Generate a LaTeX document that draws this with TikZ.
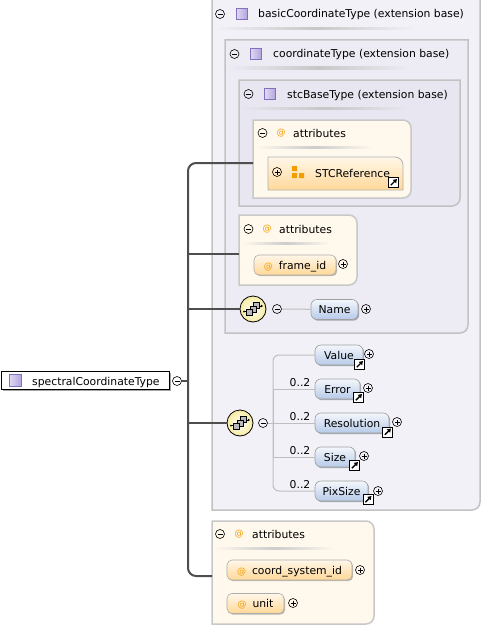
\documentclass[tikz,border=0pt]{standalone}
\usepackage{fontspec}
\setmainfont{DejaVu Sans}
\usetikzlibrary{shadows,arrows.meta}
\definecolor{bgA}{HTML}{F3F1F8}
\definecolor{bgB}{HTML}{EDEBF4}
\definecolor{bgC}{HTML}{E8E6F0}
\definecolor{boxln}{HTML}{C2C2C2}
\definecolor{attrbg}{HTML}{FFF8EC}
\definecolor{attrln}{HTML}{C8C8C8}
\definecolor{treeln}{HTML}{4E4E4E}
\definecolor{thinln}{HTML}{BEBEBE}
\definecolor{eltop}{HTML}{F4F7FC}
\definecolor{elbot}{HTML}{B6CAE8}
\definecolor{attop}{HTML}{FFF7E9}
\definecolor{atbot}{HTML}{FFD898}
\definecolor{orng}{HTML}{F39C00}
\definecolor{lavln}{HTML}{8371C0}
\definecolor{lavfill}{HTML}{B3A5DF}
\definecolor{seqfill}{HTML}{F6EBA0}
\newcommand{\myat}{{\color{orng}\fontsize{9}{10}\selectfont @}}
\tikzset{
 every node/.style={font=\fontsize{10.8}{12}\selectfont},
 pmbase/.style={circle, draw=black, line width=0.6pt, inner sep=0pt, minimum size=9pt},
 minusc/.style={pmbase, path picture={\draw[line width=0.8pt] ([xshift=2pt]path picture bounding box.west) -- ([xshift=-2pt]path picture bounding box.east);}},
 plusc/.style={pmbase, path picture={\draw[line width=0.8pt] ([xshift=2pt]path picture bounding box.west) -- ([xshift=-2pt]path picture bounding box.east) ([yshift=-2pt]path picture bounding box.north) -- ([yshift=2pt]path picture bounding box.south);}},
 ticon/.style={rectangle, draw=lavln, line width=0.8pt, inner sep=0pt, minimum size=11pt, left color=white!60!lavfill, right color=lavfill},
 htext/.style={anchor=base west, inner sep=0pt},
 attext/.style={inner sep=0pt, text=orng, font=\fontsize{9}{10}\selectfont},
 elnode/.style={draw=gray!75, line width=0.6pt, rounded corners=6pt, top color=eltop, bottom color=elbot, minimum height=20pt, inner sep=0pt, text height=8pt, text depth=0pt, drop shadow={shadow xshift=1.2pt, shadow yshift=-1.2pt, fill=black, opacity=0.3}},
 atnode/.style={draw=gray!65, line width=0.6pt, rounded corners=5pt, top color=attop, bottom color=atbot, minimum height=20pt, inner sep=0pt, text height=8pt, text depth=0pt, drop shadow={shadow xshift=1.2pt, shadow yshift=-1.2pt, fill=black, opacity=0.25}},
 linkic/.style={rectangle, draw=black, fill=white, line width=0.8pt, minimum size=10pt, inner sep=0pt, path picture={\draw[line width=1.4pt, -{Triangle[length=3.5pt,width=4.5pt]}] ([shift={(2.3pt,2.3pt)}]path picture bounding box.south west) -- ([shift={(-1.6pt,-1.6pt)}]path picture bounding box.north east);}},
 seqnode/.style={circle, draw=black, line width=0.8pt, minimum size=26pt, inner sep=0pt, inner color=white, outer color=seqfill},
 cardlab/.style={anchor=base, inner sep=0pt},
 treeconn/.style={draw=treeln, line width=2pt},
 thinconn/.style={draw=thinln, line width=1pt},
 seqglyph/.pic={
  \draw[line width=0.6pt] (-9,-2.5) -- (-5,-2.5);
  \fill (-9,-2.5) circle (1);
  \draw[line width=0.6pt, -{Triangle[length=2.2pt,width=2.6pt]}] (5,3) -- (10,3);
  \filldraw[fill=gray!55, draw=black, line width=0.5pt] (0.5,0.5) rectangle (6.5,6.5);
  \filldraw[fill=gray!55, draw=black, line width=0.5pt] (-3,-3) rectangle (3,3);
  \filldraw[fill=gray!55, draw=black, line width=0.5pt] (-6.5,-6.5) rectangle (-0.5,-0.5);
 }
}
\begin{document}
\begin{tikzpicture}[x=1pt,y=1pt]
\useasboundingbox (0,0) rectangle (482,-626);
% ---- nested extension boxes
\path[draw=boxln, line width=1.5pt, fill=bgA] (212,6) -- (480,6) -- (480,-502) arc[start angle=0,end angle=-90,radius=8] -- (212,-510) -- cycle;
\shade[left color=bgA, right color=bgA, middle color=black!22] (214,-28) rectangle (416,-30);
\node[minusc] (mo) at (220,-14) {};
\node[ticon] (io) at (241.5,-14) {};
\node[htext] (to) at (258,-18) {basicCoordinateType (extension base)};

\path[draw=boxln, line width=1.5pt, fill=bgB] (225,-40) -- (468,-40) -- (468,-325) arc[start angle=0,end angle=-90,radius=8] -- (225,-333) -- cycle;
\shade[left color=bgB, right color=bgB, middle color=black!22] (227,-67) rectangle (410,-69);
\node[minusc] (mc) at (234.5,-54) {};
\node[ticon] (ic) at (255.5,-54) {};
\node[htext] (tc) at (273,-58) {coordinateType (extension base)};

\path[draw=boxln, line width=1.5pt, fill=bgC] (239,-80) -- (460,-80) -- (460,-198) arc[start angle=0,end angle=-90,radius=8] -- (239,-206) -- cycle;
\shade[left color=bgC, right color=bgC, middle color=black!22] (241,-107) rectangle (408,-109);
\node[minusc] (ms) at (248.5,-94) {};
\node[ticon] (is) at (270,-94) {};
\node[htext] (ts) at (287,-98) {stcBaseType (extension base)};

% ---- attributes A
\path[draw=attrln, line width=1.5pt, fill=attrbg] (253,-120) -- (403,-120) arc[start angle=90,end angle=0,radius=8] -- (411,-190) arc[start angle=0,end angle=-90,radius=8] -- (253,-198) -- cycle;
\shade[left color=attrbg, right color=attrbg, middle color=black!20] (256,-146) rectangle (373,-148);
\node[minusc] (ma) at (262.5,-133) {};
\node[attext] (aa) at (281,-133) {@};
\node[htext] (ta) at (293,-137) {attributes};
\path[draw=gray!60, line width=0.8pt, top color=attop, bottom color=atbot] (268,-157) -- (395,-157) arc[start angle=90,end angle=0,radius=8] -- (403,-190) -- (268,-190) -- cycle;
\node[plusc] (sp) at (277,-172) {};
\fill[orng] (292,-166) rectangle (297,-171) (292,-173) rectangle (297,-178) (299,-173) rectangle (304,-178);
\node[htext] (stc) at (315,-177) {STCReference};
\node[linkic] (sl) at (393.5,-182.5) {};
\coordinate (attrAw) at (253,-163);

% ---- attributes B
\path[draw=attrln, line width=1.5pt, fill=attrbg] (239,-215) -- (349,-215) arc[start angle=90,end angle=0,radius=8] -- (357,-277) arc[start angle=0,end angle=-90,radius=8] -- (239,-285) -- cycle;
\shade[left color=attrbg, right color=attrbg, middle color=black!20] (242,-242) rectangle (330,-244);
\node[minusc] (mb) at (248.5,-229) {};
\node[attext] (ab) at (267,-229) {@};
\node[htext] (tb) at (279,-233) {attributes};
\node[atnode, minimum width=82pt] (fid) at (295,-265) {\myat\hspace{6pt}frame\_id};
\node[plusc] (fidp) at (343,-264) {};
\coordinate (attrBw) at (239,-254);

% ---- sequence 1
\node[seqnode] (seq1) at (253,-309) {};
\pic at (seq1.center) {seqglyph};
\node[minusc] (seq1m) at (277,-309) {};
\node[elnode, minimum width=47pt] (name) at (334.5,-309.5) {Name};
\node[plusc] (namep) at (366,-309) {};
\draw[thinconn] (seq1m) -- (name);

% ---- sequence 2
\node[seqnode] (seq2) at (240,-423) {};
\pic at (seq2.center) {seqglyph};
\node[minusc] (seq2m) at (263,-423) {};
\coordinate (bus) at (273,-423);
\node[elnode, minimum width=48pt] (value) at (339,-355) {Value};
\node[elnode, minimum width=45pt] (err) at (337.5,-389) {Error};
\node[elnode, minimum width=74pt] (res) at (352,-423) {Resolution};
\node[elnode, minimum width=40pt] (size) at (335,-457) {Size};
\node[elnode, minimum width=53pt] (pix) at (341.5,-491) {PixSize};
\draw[thinconn] (seq2m) -- (bus);
\draw[thinconn, rounded corners=6] (bus) |- (value.west);
\draw[thinconn] (bus) |- (err.west);
\draw[thinconn] (bus) -- (res.west);
\draw[thinconn] (bus) |- (size.west);
\draw[thinconn, rounded corners=6] (bus) |- (pix.west);
\node[cardlab] (l1) at (300,-386) {0..2};
\node[cardlab] (l2) at (300,-420) {0..2};
\node[cardlab] (l3) at (300,-454) {0..2};
\node[cardlab] (l4) at (300,-488) {0..2};
\node[linkic] (vl) at (359.5,-364.5) {};
\node[linkic] (el) at (358.5,-397.5) {};
\node[linkic] (rl) at (387.5,-432) {};
\node[linkic] (zl) at (354.5,-465.5) {};
\node[linkic] (pl) at (368,-499.5) {};
\node[plusc] (vp) at (369,-354) {};
\node[plusc] (ep) at (368,-388) {};
\node[plusc] (rp) at (397,-422) {};
\node[plusc] (zp) at (364,-456) {};
\node[plusc] (pp) at (378,-491) {};

% ---- attributes C
\path[draw=attrln, line width=1.5pt, fill=attrbg] (212,-521) -- (366,-521) arc[start angle=90,end angle=0,radius=8] -- (374,-616) arc[start angle=0,end angle=-90,radius=8] -- (212,-624) -- cycle;
\shade[left color=attrbg, right color=attrbg, middle color=black!20] (214,-547) rectangle (335,-549);
\node[minusc] (mcc) at (220,-534) {};
\node[attext] (acc) at (239,-534) {@};
\node[htext] (tcc) at (252,-538) {attributes};
\node[atnode, minimum width=125pt] (csid) at (289.5,-570) {\myat\hspace{6pt}coord\_system\_id};
\node[plusc] (csidp) at (360,-570) {};
\node[atnode, minimum width=57pt] (unit) at (255.5,-603.5) {\myat\hspace{6pt}unit};
\node[plusc] (unitp) at (293,-603) {};
\coordinate (attrCw) at (212,-576);

% ---- root
\node[draw=black, fill=white, line width=0.8pt, minimum width=168pt, minimum height=18pt, inner sep=0pt, drop shadow={shadow xshift=1.5pt, shadow yshift=-1.5pt, fill=black, opacity=0.35}] (sct) at (85,-380) {};
\node[ticon, minimum size=12pt] (sci) at (15,-380.5) {};
\node[htext] (sctt) at (32,-385) {spectralCoordinateType};
\node[minusc] (scm) at (177,-381) {};
\coordinate (trunk) at (188,-381);

% ---- tree connectors
\draw[treeconn] (scm) -- (trunk);
\draw[treeconn, rounded corners=8] (trunk) |- (attrAw);
\draw[treeconn] (trunk) |- (attrBw);
\draw[treeconn] (trunk) |- (seq1);
\draw[treeconn] (trunk) |- (seq2);
\draw[treeconn, rounded corners=8] (trunk) |- (attrCw);
\end{tikzpicture}
\end{document}
